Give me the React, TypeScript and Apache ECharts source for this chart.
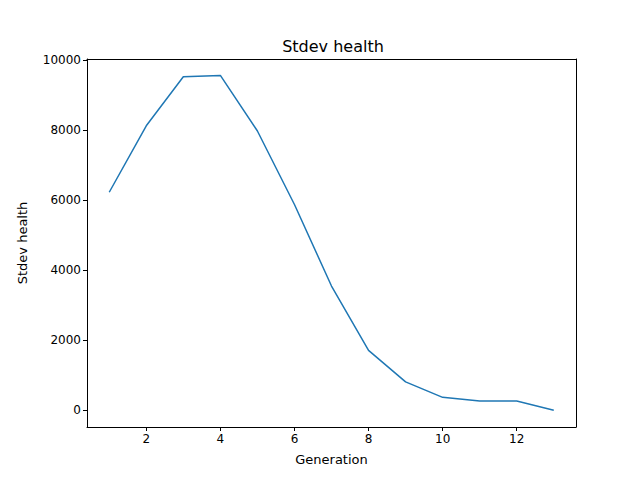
import React, { useEffect, useRef } from 'react'
import * as echarts from 'echarts'

const generations = [1, 2, 3, 4, 5, 6, 7, 8, 9, 10, 11, 12, 13]
const stdevHealth = [6230, 8130, 9530, 9570, 7980, 5880, 3550, 1710, 810, 370, 265, 265, 0]
const xTicks = [2, 4, 6, 8, 10, 12]
const yTicks = [0, 2000, 4000, 6000, 8000, 10000]

const font = 'DejaVu Sans'

const App = () => {
  const chartRef = useRef<HTMLDivElement>(null)

  useEffect(() => {
    if (!chartRef.current) return
    const chart = echarts.init(chartRef.current, null, { renderer: 'svg' })
    const lineStyle = { color: '#000', width: 1 }
    chart.setOption({
      animation: false,
      title: {
        text: 'Stdev health', left: 320, top: 25, textAlign: 'center',
        textStyle: { fontFamily: font, fontSize: 16, fontWeight: 'normal', color: '#000' },
      },
      grid: { left: 73, right: 56, top: 51, bottom: 45 },
      xAxis: [
        {
          type: 'value', min: 0.4, max: 13.6,
          name: 'Generation', nameLocation: 'middle', nameGap: 26,
          nameTextStyle: { fontFamily: font, fontSize: 13, color: '#000' },
          axisLine: { onZero: false, lineStyle },
          axisTick: { show: true, length: 4, customValues: xTicks, lineStyle },
          axisLabel: { customValues: xTicks, fontFamily: font, fontSize: 12, color: '#000', margin: 6 },
          splitLine: { show: false },
        },
        {
          type: 'value', position: 'top', min: 0.4, max: 13.6,
          axisLine: { show: true, onZero: false, lineStyle }, axisTick: { show: false },
          axisLabel: { show: false }, splitLine: { show: false },
        },
      ],
      yAxis: [
        {
          type: 'value', min: -478, max: 10038,
          name: 'Stdev health', nameLocation: 'middle', nameGap: 58,
          nameTextStyle: { fontFamily: font, fontSize: 13, color: '#000' },
          axisLine: { show: true, onZero: false, lineStyle },
          axisTick: { show: true, length: 4, customValues: yTicks, lineStyle },
          axisLabel: {
            customValues: yTicks, formatter: (v: number) => String(v),
            fontFamily: font, fontSize: 12, color: '#000', margin: 6,
          },
          splitLine: { show: false },
        },
        {
          type: 'value', position: 'right', min: -478, max: 10038,
          axisLine: { show: true, onZero: false, lineStyle }, axisTick: { show: false },
          axisLabel: { show: false }, splitLine: { show: false },
        },
      ],
      series: [
        {
          type: 'line',
          data: generations.map((g, i) => [g, stdevHealth[i]]),
          showSymbol: false,
          lineStyle: { color: '#1f77b4', width: 1.5 },
          itemStyle: { color: '#1f77b4' },
        },
      ],
    })
    return () => chart.dispose()
  }, [])

  return <div ref={chartRef} style={{ width: 624, height: 464 }} />
}

export default App
